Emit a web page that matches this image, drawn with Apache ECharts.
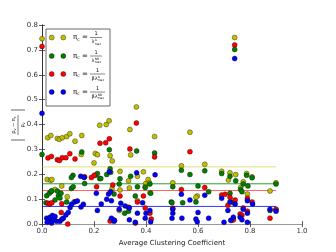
<!DOCTYPE html>
<html><head><meta charset="utf-8">
<script src="https://cdn.jsdelivr.net/npm/echarts@6/dist/echarts.min.js"></script>
<style>html,body{margin:0;padding:0;background:#fff}#c{width:336px;height:252px}</style>
</head><body><div id="c"></div>
<script>
const seriesNames = ['A', 'NB', 'betaA', 'betaNB'];
const colors = ['#bfbf00', '#008000', '#ff0000', '#0000ff'];
const lineColors = ['rgba(191,191,0,0.5)', 'rgba(0,128,0,0.8)', 'rgba(255,0,0,0.6)', 'rgba(0,0,255,0.8)'];
const meanValues = [0.23, 0.162, 0.135, 0.071];
const meanLineEnd = 0.9;
const xTickLabels = ['0.0', '0.2', '0.4', '0.6', '0.8', '1.0'];
const yTickLabels = ['0.0', '0.1', '0.2', '0.3', '0.4', '0.5', '0.6', '0.7', '0.8'];
const legendSup = ['A', 'NB', 'A', 'NB'];
const legendBeta = ['', '', 'β', 'β'];

const yellowPts = [
[0.0,0.745],[0.741,0.75],
[0.022,0.347],[0.034,0.356],[0.059,0.344],[0.067,0.341],[0.078,0.347],[0.095,0.352],[0.107,0.363],[0.127,0.333],[0.153,0.356],
[0.222,0.397],[0.247,0.4],[0.258,0.415],[0.338,0.38],[0.363,0.471],[0.433,0.352],[0.569,0.369],
[0.151,0.28],[0.205,0.284],[0.213,0.279],[0.2,0.246],[0.262,0.275],[0.27,0.254],[0.341,0.278],
[0.02,0.179],[0.033,0.176],[0.038,0.179],[0.05,0.139],[0.076,0.153],[0.097,0.11],[0.123,0.089],
[0.3,0.212],[0.367,0.192],[0.39,0.21],[0.408,0.179],[0.333,0.174],[0.399,0.163],[0.413,0.166],[0.3,0.137],[0.269,0.142],[0.336,0.145],[0.397,0.15],[0.367,0.094],[0.415,0.126],[0.297,0.055],
[0.536,0.234],[0.626,0.24],[0.691,0.212],[0.723,0.206],[0.745,0.199],[0.503,0.166],[0.597,0.113],[0.592,0.108],[0.733,0.094],[0.717,0.177],
[0.787,0.203],[0.808,0.19],[0.774,0.17],[0.764,0.147],[0.79,0.121],[0.9,0.166],[0.877,0.133]
];
const greenPts = [
[0.0,0.28],[0.741,0.702],
[0.018,0.114],[0.028,0.124],[0.035,0.131],[0.037,0.134],[0.059,0.133],[0.063,0.114],[0.073,0.124],[0.069,0.105],[0.05,0.097],[0.015,0.086],[0.028,0.082],
[0.113,0.143],[0.12,0.15],[0.119,0.196],[0.113,0.187],[0.095,0.089],[0.153,0.29],[0.164,0.163],[0.205,0.196],[0.213,0.203],[0.222,0.183],[0.226,0.183],
[0.259,0.299],[0.364,0.294],[0.433,0.286],[0.262,0.222],[0.249,0.199],[0.264,0.208],[0.3,0.182],[0.297,0.161],[0.341,0.192],[0.367,0.15],[0.397,0.147],[0.415,0.161],[0.418,0.124],[0.277,0.121],[0.359,0.113],[0.318,0.044],[0.333,0.052],[0.497,0.089],
[0.536,0.216],[0.626,0.214],[0.569,0.199],[0.691,0.203],[0.723,0.192],[0.745,0.174],[0.503,0.15],[0.6,0.153],[0.641,0.13],[0.5,0.086],[0.541,0.086],[0.592,0.089],[0.723,0.124],[0.736,0.086],
[0.787,0.196],[0.808,0.186],[0.774,0.161],[0.792,0.153],[0.764,0.139],[0.769,0.13],[0.9,0.161],[0.877,0.055],[0.9,0.057]
];
const redPts = [
[0.0,0.714],[0.741,0.72],
[0.023,0.266],[0.036,0.272],[0.059,0.259],[0.067,0.256],[0.078,0.267],[0.092,0.267],[0.107,0.283],[0.127,0.262],
[0.223,0.325],[0.245,0.327],[0.259,0.343],[0.363,0.406],[0.338,0.302],[0.433,0.27],[0.569,0.291],
[0.023,0.084],[0.03,0.081],[0.038,0.086],[0.074,0.047],[0.076,0.082],[0.099,0.0],
[0.164,0.19],[0.19,0.187],[0.21,0.15],[0.201,0.196],
[0.272,0.157],[0.3,0.113],[0.367,0.089],[0.39,0.113],[0.333,0.068],[0.397,0.065],[0.415,0.044],[0.42,0.02],[0.359,0.004],[0.274,0.017],[0.262,0.012],
[0.536,0.139],[0.626,0.147],[0.691,0.117],[0.704,0.12],[0.723,0.108],[0.743,0.097],[0.503,0.064],[0.715,0.076],[0.73,0.015],[0.736,0.017],
[0.79,0.104],[0.808,0.089],[0.774,0.065],[0.762,0.041],[0.769,0.036],[0.79,0.052],[0.877,0.024],[0.9,0.06]
];
const bluePts = [
[0.0,0.445],[0.741,0.665],
[0.018,0.024],[0.027,0.02],[0.031,0.028],[0.033,0.011],[0.04,0.035],[0.044,0.017],[0.05,0.031],[0.02,0.007],[0.037,0.004],[0.056,0.011],[0.069,0.011],[0.076,0.019],[0.082,0.024],[0.092,0.037],[0.101,0.047],[0.108,0.067],[0.114,0.08],[0.127,0.09],[0.136,0.093],[0.159,0.08],[0.15,0.069],
[0.149,0.192],[0.162,0.187],[0.209,0.124],[0.228,0.081],[0.213,0.055],
[0.259,0.21],[0.364,0.206],[0.435,0.198],[0.256,0.121],[0.264,0.13],[0.249,0.1],[0.267,0.094],[0.303,0.084],[0.32,0.073],[0.336,0.065],[0.387,0.086],[0.297,0.06],[0.367,0.044],[0.4,0.044],[0.415,0.055],[0.267,0.024],[0.277,0.011],[0.279,0.015],[0.336,0.017],[0.359,0.007],[0.397,0.024],[0.418,0.009],
[0.536,0.12],[0.626,0.116],[0.691,0.104],[0.503,0.06],[0.503,0.044],[0.569,0.097],[0.723,0.089],[0.743,0.081],[0.715,0.055],[0.6,0.047],[0.5,0.024],[0.538,0.024],[0.592,0.02],[0.597,0.009],[0.641,0.024],[0.7,0.007],[0.726,0.015],[0.736,0.028],
[0.79,0.094],[0.81,0.081],[0.774,0.06],[0.79,0.044],[0.762,0.028],[0.769,0.017],[0.79,0.007],[0.877,0.06],[0.9,0.052]
];
const allPts = [yellowPts, greenPts, redPts, bluePts];

const FONT = 'DejaVu Sans';
const chart = echarts.init(document.getElementById('c'), null, {renderer: 'canvas'});

const series = [];
meanValues.forEach((v, i) => {
  series.push({type: 'line', name: seriesNames[i] + '_mean', data: [[0, v], [meanLineEnd, v]],
    symbol: 'none', lineStyle: {color: lineColors[i], width: 1}, z: 1, silent: true, animation: false});
});
allPts.forEach((pts, i) => {
  series.push({type: 'scatter', name: seriesNames[i], data: pts, symbol: 'circle', symbolSize: 5,
    itemStyle: {color: colors[i], borderColor: 'rgba(0,0,0,0.7)', borderWidth: 0.5, opacity: 1},
    z: 2 + i, animation: false, silent: true});
});

// legend graphics
const legendRows = [37.5, 56, 74, 92];
const legendEls = [{type: 'rect', shape: {x: 46, y: 29, width: 64, height: 77},
  style: {fill: '#fff', stroke: '#444', lineWidth: 0.8}, z: 100}];
legendRows.forEach((ry, i) => {
  [51.7, 63.3].forEach(mx => legendEls.push({type: 'circle', shape: {cx: mx, cy: ry, r: 2.5},
    style: {fill: colors[i], stroke: 'rgba(0,0,0,0.7)', lineWidth: 0.5}, z: 101}));
  legendEls.push({type: 'text', x: 73, y: ry, z: 101, style: {text: 'π{s|c} =', fontFamily: FONT, fontSize: 7, fill: '#111',
    verticalAlign: 'middle', rich: {s: {fontSize: 4.5, fontFamily: FONT, fill: '#111', padding: [4, 0, 0, 0]}}}});
  const x1 = 90, x2 = legendBeta[i] ? 105 : 102;
  const cx = (x1 + x2) / 2;
  legendEls.push({type: 'line', shape: {x1: x1, y1: ry, x2: x2, y2: ry}, style: {stroke: '#111', lineWidth: 0.5}, z: 101});
  legendEls.push({type: 'text', x: cx, y: ry - 1, z: 101, style: {text: '1', fontFamily: FONT, fontSize: 5, fill: '#111',
    align: 'center', verticalAlign: 'bottom'}});
  const base = legendBeta[i] + 'λ';
  const bx = cx - (legendBeta[i] ? 6 : 4.5);
  legendEls.push({type: 'text', x: bx, y: ry + 4.5, z: 101, style: {text: base, fontFamily: FONT, fontSize: 5, fill: '#111',
    align: 'left', verticalAlign: 'middle'}});
  const sx = bx + (legendBeta[i] ? 6.2 : 3.2);
  legendEls.push({type: 'text', x: sx, y: ry + 3.2, z: 101, style: {text: legendSup[i], fontFamily: FONT, fontSize: 3, fill: '#111',
    align: 'left', verticalAlign: 'middle'}});
  legendEls.push({type: 'text', x: sx, y: ry + 6.3, z: 101, style: {text: 'max', fontFamily: FONT, fontSize: 3, fill: '#111',
    align: 'left', verticalAlign: 'middle'}});
});

// y axis label: |(p_v - pi_c)/p_v|
const yLabel = {type: 'group', x: 18, y: 125, rotation: Math.PI / 2, z: 100, children: [
  {type: 'line', shape: {x1: -15, y1: -7, x2: -15, y2: 7}, style: {stroke: '#222', lineWidth: 0.7}},
  {type: 'line', shape: {x1: 15, y1: -7, x2: 15, y2: 7}, style: {stroke: '#222', lineWidth: 0.7}},
  {type: 'line', shape: {x1: -10, y1: 0, x2: 10, y2: 0}, style: {stroke: '#222', lineWidth: 0.6}},
  {type: 'text', x: 0, y: -0.8, style: {text: 'p{s|v} − π{s|c}', fontFamily: FONT, fontSize: 5, fill: '#222',
    align: 'center', verticalAlign: 'bottom', rich: {s: {fontSize: 3.5, fontFamily: FONT, fill: '#222', padding: [3, 0, 0, 0]}}}},
  {type: 'text', x: 0, y: 0.8, style: {text: 'p{s|v}', fontFamily: FONT, fontSize: 5, fill: '#222',
    align: 'center', verticalAlign: 'top', rich: {s: {fontSize: 3.5, fontFamily: FONT, fill: '#222', padding: [3, 0, 0, 0]}}}}
]};

const axisCommon = {
  splitLine: {show: false},
  axisTick: {show: true, inside: true, length: 3, lineStyle: {color: '#333', width: 0.8}},
};

chart.setOption({
  backgroundColor: '#fff',
  animation: false,
  grid: {left: 42, right: 34, top: 25, bottom: 26, containLabel: false},
  xAxis: [
    Object.assign({type: 'value', min: 0, max: 1, interval: 0.2, position: 'bottom',
      axisLine: {show: true, lineStyle: {color: '#888', width: 1}},
      axisLabel: {fontFamily: FONT, fontSize: 7, color: '#333', margin: 4,
        formatter: (v) => xTickLabels[Math.round(v / 0.2)]},
      name: 'Average Clustering Coefficient', nameLocation: 'middle', nameGap: 11,
      nameTextStyle: {fontFamily: FONT, fontSize: 7, color: '#222'}}, axisCommon),
    Object.assign({type: 'value', min: 0, max: 1, interval: 0.2, position: 'top',
      axisLine: {show: true, lineStyle: {color: '#999', width: 1}}, axisLabel: {show: false}}, axisCommon)
  ],
  yAxis: [
    Object.assign({type: 'value', min: 0, max: 0.8, interval: 0.1, position: 'left',
      axisLine: {show: true, lineStyle: {color: '#888', width: 1}},
      axisLabel: {fontFamily: FONT, fontSize: 7, color: '#333', margin: 4,
        formatter: (v) => yTickLabels[Math.round(v / 0.1)]}}, axisCommon),
    Object.assign({type: 'value', min: 0, max: 0.8, interval: 0.1, position: 'right',
      axisLine: {show: true, lineStyle: {color: '#333', width: 1}}, axisLabel: {show: false}}, axisCommon)
  ],
  series: series,
  graphic: legendEls.concat([yLabel])
});
</script></body></html>
